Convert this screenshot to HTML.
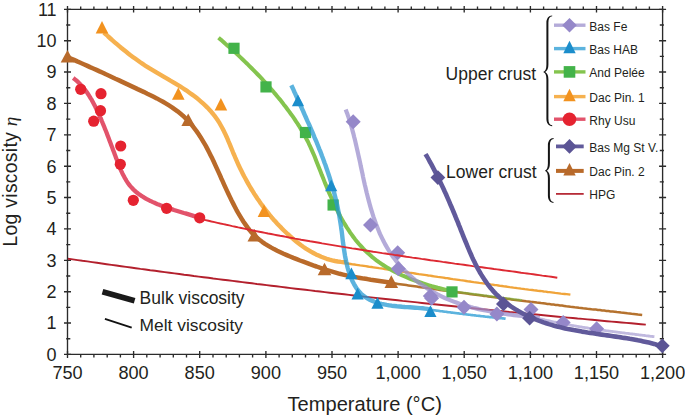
<!DOCTYPE html>
<html><head><meta charset="utf-8"><title>Log viscosity vs temperature</title>
<style>
html,body{margin:0;padding:0;background:#fff;}
body{width:685px;height:415px;overflow:hidden;}
svg{display:block;font-family:"Liberation Sans",sans-serif;}
</style></head><body>
<svg width="685" height="415" viewBox="0 0 685 415">
<rect width="685" height="415" fill="#fff"/>
<g stroke="#2b2b2b" stroke-width="1.35" fill="none">
<path d="M67.5,9.3 H662.6 V354.4 H67.5 Z"/>
<path d="M67.5,350.9 V357.9 M67.5,6.1 V12.5 M80.7,354.4 V357.4 M80.7,6.5 V9.3 M93.9,354.4 V357.4 M93.9,6.5 V9.3 M107.2,354.4 V357.4 M107.2,6.5 V9.3 M120.4,354.4 V357.4 M120.4,6.5 V9.3 M133.6,350.9 V357.9 M133.6,6.1 V12.5 M146.8,354.4 V357.4 M146.8,6.5 V9.3 M160.1,354.4 V357.4 M160.1,6.5 V9.3 M173.3,354.4 V357.4 M173.3,6.5 V9.3 M186.5,354.4 V357.4 M186.5,6.5 V9.3 M199.7,350.9 V357.9 M199.7,6.1 V12.5 M213,354.4 V357.4 M213,6.5 V9.3 M226.2,354.4 V357.4 M226.2,6.5 V9.3 M239.4,354.4 V357.4 M239.4,6.5 V9.3 M252.6,354.4 V357.4 M252.6,6.5 V9.3 M265.9,350.9 V357.9 M265.9,6.1 V12.5 M279.1,354.4 V357.4 M279.1,6.5 V9.3 M292.3,354.4 V357.4 M292.3,6.5 V9.3 M305.5,354.4 V357.4 M305.5,6.5 V9.3 M318.8,354.4 V357.4 M318.8,6.5 V9.3 M332,350.9 V357.9 M332,6.1 V12.5 M345.2,354.4 V357.4 M345.2,6.5 V9.3 M358.4,354.4 V357.4 M358.4,6.5 V9.3 M371.7,354.4 V357.4 M371.7,6.5 V9.3 M384.9,354.4 V357.4 M384.9,6.5 V9.3 M398.1,350.9 V357.9 M398.1,6.1 V12.5 M411.3,354.4 V357.4 M411.3,6.5 V9.3 M424.6,354.4 V357.4 M424.6,6.5 V9.3 M437.8,354.4 V357.4 M437.8,6.5 V9.3 M451,354.4 V357.4 M451,6.5 V9.3 M464.2,350.9 V357.9 M464.2,6.1 V12.5 M477.5,354.4 V357.4 M477.5,6.5 V9.3 M490.7,354.4 V357.4 M490.7,6.5 V9.3 M503.9,354.4 V357.4 M503.9,6.5 V9.3 M517.1,354.4 V357.4 M517.1,6.5 V9.3 M530.4,350.9 V357.9 M530.4,6.1 V12.5 M543.6,354.4 V357.4 M543.6,6.5 V9.3 M556.8,354.4 V357.4 M556.8,6.5 V9.3 M570,354.4 V357.4 M570,6.5 V9.3 M583.3,354.4 V357.4 M583.3,6.5 V9.3 M596.5,350.9 V357.9 M596.5,6.1 V12.5 M609.7,354.4 V357.4 M609.7,6.5 V9.3 M622.9,354.4 V357.4 M622.9,6.5 V9.3 M636.2,354.4 V357.4 M636.2,6.5 V9.3 M649.4,354.4 V357.4 M649.4,6.5 V9.3 M662.6,350.9 V357.9 M662.6,6.1 V12.5 M64,354.4 H71 M659.1,354.4 H666.1 M66.2,338.7 H70.3 M659.8,338.7 H663.9 M64,323 H71 M659.1,323 H666.1 M66.2,307.3 H70.3 M659.8,307.3 H663.9 M64,291.7 H71 M659.1,291.7 H666.1 M66.2,276 H70.3 M659.8,276 H663.9 M64,260.3 H71 M659.1,260.3 H666.1 M66.2,244.6 H70.3 M659.8,244.6 H663.9 M64,228.9 H71 M659.1,228.9 H666.1 M66.2,213.2 H70.3 M659.8,213.2 H663.9 M64,197.5 H71 M659.1,197.5 H666.1 M66.2,181.8 H70.3 M659.8,181.8 H663.9 M64,166.2 H71 M659.1,166.2 H666.1 M66.2,150.5 H70.3 M659.8,150.5 H663.9 M64,134.8 H71 M659.1,134.8 H666.1 M66.2,119.1 H70.3 M659.8,119.1 H663.9 M64,103.4 H71 M659.1,103.4 H666.1 M66.2,87.7 H70.3 M659.8,87.7 H663.9 M64,72 H71 M659.1,72 H666.1 M66.2,56.4 H70.3 M659.8,56.4 H663.9 M64,40.7 H71 M659.1,40.7 H666.1 M66.2,25 H70.3 M659.8,25 H663.9 M64,9.3 H71 M659.1,9.3 H666.1"/>
</g>
<path d="M67.9,258.7 L72.7,259.4 L77.6,260.1 L82.4,260.8 L87.3,261.4 L92.1,262.1 L96.9,262.8 L101.8,263.5 L106.6,264.2 L111.5,264.9 L116.3,265.5 L121.2,266.2 L126.0,266.9 L130.8,267.5 L135.7,268.2 L140.5,268.9 L145.4,269.5 L150.2,270.2 L155.1,270.8 L159.9,271.5 L164.7,272.1 L169.6,272.8 L174.4,273.4 L179.3,274.0 L184.1,274.7 L189.0,275.3 L193.8,276.0 L198.7,276.6 L203.5,277.2 L208.4,277.8 L213.2,278.5 L218.1,279.1 L222.9,279.7 L227.8,280.3 L232.6,280.9 L237.5,281.5 L242.3,282.1 L247.2,282.7 L252.0,283.3 L256.9,284.0 L261.7,284.5 L266.6,285.1 L271.4,285.7 L276.3,286.3 L281.1,286.9 L286.0,287.5 L290.8,288.1 L295.7,288.7 L300.6,289.2 L305.4,289.8 L310.3,290.4 L315.1,291.0 L320.0,291.5 L324.8,292.1 L329.7,292.7 L334.5,293.2 L339.4,293.8 L344.2,294.3 L349.1,294.9 L354.0,295.5 L358.8,296.0 L363.7,296.6 L368.5,297.1 L373.4,297.6 L378.3,298.2 L383.1,298.7 L388.0,299.3 L392.8,299.8 L397.7,300.3 L402.5,300.9 L407.4,301.4 L412.3,301.9 L417.1,302.4 L422.0,303.0 L426.8,303.5 L431.7,304.0 L436.6,304.5 L441.4,305.0 L446.3,305.5 L451.2,306.0 L456.0,306.5 L460.9,307.0 L465.7,307.5 L470.6,308.0 L475.5,308.5 L480.3,309.0 L485.2,309.5 L490.1,310.0 L494.9,310.5 L499.8,311.0 L504.7,311.5 L509.5,312.0 L514.4,312.4 L519.2,312.9 L524.1,313.4 L529.0,313.9 L533.8,314.3 L538.7,314.8 L543.6,315.3 L548.4,315.7 L553.3,316.2 L558.2,316.7 L563.0,317.1 L567.9,317.6 L572.8,318.0 L577.6,318.5 L582.5,318.9 L587.4,319.4 L592.2,319.8 L597.1,320.3 L602.0,320.7 L606.9,321.2 L611.7,321.6 L616.6,322.0 L621.5,322.5 L626.3,322.9 L631.2,323.3 L636.1,323.8 L640.9,324.2 L645.8,324.6" fill="none" stroke="#b3202d" stroke-width="1.9" stroke-linecap="butt" stroke-linejoin="round"/>
<path d="M345.0,263.1 L346.9,263.4 L348.8,263.7 L350.7,264.0 L352.6,264.3 L354.5,264.5 L356.4,264.8 L358.3,265.1 L360.1,265.4 L362.0,265.6 L363.9,265.9 L365.8,266.2 L367.7,266.5 L369.6,266.8 L371.5,267.0 L373.4,267.3 L375.3,267.6 L377.2,267.9 L379.1,268.2 L381.0,268.4 L382.9,268.7 L384.7,269.0 L386.6,269.3 L388.5,269.6 L390.4,269.8 L392.3,270.1 L394.2,270.4 L396.1,270.7 L398.0,271.0 L399.9,271.2 L401.8,271.5 L403.7,271.8 L405.6,272.1 L407.4,272.4 L409.3,272.7 L411.2,272.9 L413.1,273.2 L415.0,273.5 L416.9,273.8 L418.8,274.1 L420.7,274.3 L422.6,274.6 L424.5,274.9 L426.4,275.2 L428.3,275.5 L430.1,275.7 L432.0,276.0 L433.9,276.3 L435.8,276.6 L437.7,276.9 L439.6,277.1 L441.5,277.4 L443.4,277.7 L445.3,278.0 L447.2,278.2 L449.1,278.5 L451.0,278.8 L452.9,279.1 L454.7,279.3 L456.6,279.6 L458.5,279.9 L460.4,280.2 L462.3,280.4 L464.2,280.7 L466.1,281.0 L468.0,281.3 L469.9,281.5 L471.8,281.8 L473.7,282.1 L475.6,282.3 L477.5,282.6 L479.4,282.9 L481.3,283.1 L483.1,283.4 L485.0,283.7 L486.9,283.9 L488.8,284.2 L490.7,284.5 L492.6,284.7 L494.5,285.0 L496.4,285.2 L498.3,285.5 L500.2,285.8 L502.1,286.0 L504.0,286.3 L505.9,286.5 L507.8,286.8 L509.7,287.1 L511.6,287.3 L513.5,287.6 L515.4,287.8 L517.3,288.1 L519.2,288.3 L521.1,288.6 L522.9,288.8 L524.8,289.1 L526.7,289.3 L528.6,289.6 L530.5,289.8 L532.4,290.0 L534.3,290.3 L536.2,290.5 L538.1,290.8 L540.0,291.0 L541.9,291.2 L543.8,291.5 L545.7,291.7 L547.6,292.0 L549.5,292.2 L551.4,292.4 L553.3,292.6 L555.2,292.9 L557.1,293.1 L559.0,293.3 L560.9,293.6 L562.8,293.8 L564.7,294.0 L566.6,294.2 L568.5,294.4 L570.4,294.7" fill="none" stroke="#f0a43a" stroke-width="2.3" stroke-linecap="butt" stroke-linejoin="round"/>
<path d="M391.6,283.0 L393.7,283.3 L395.8,283.6 L397.9,283.9 L400.0,284.2 L402.1,284.5 L404.2,284.8 L406.3,285.1 L408.4,285.4 L410.5,285.7 L412.6,286.0 L414.7,286.3 L416.8,286.6 L418.9,286.9 L421.0,287.2 L423.1,287.5 L425.2,287.8 L427.3,288.1 L429.4,288.4 L431.5,288.7 L433.6,289.0 L435.7,289.3 L437.8,289.6 L439.9,289.9 L442.0,290.2 L444.1,290.5 L446.2,290.8 L448.4,291.1 L450.5,291.3 L452.6,291.6 L454.7,291.9 L456.8,292.2 L458.9,292.5 L461.0,292.8 L463.1,293.1 L465.2,293.3 L467.3,293.6 L469.4,293.9 L471.5,294.2 L473.6,294.5 L475.7,294.7 L477.8,295.0 L479.9,295.3 L482.0,295.6 L484.1,295.9 L486.2,296.1 L488.3,296.4 L490.4,296.7 L492.5,297.0 L494.6,297.2 L496.8,297.5 L498.9,297.8 L501.0,298.0 L503.1,298.3 L505.2,298.6 L507.3,298.9 L509.4,299.1 L511.5,299.4 L513.6,299.7 L515.7,299.9 L517.8,300.2 L519.9,300.5 L522.0,300.7 L524.1,301.0 L526.2,301.3 L528.3,301.5 L530.5,301.8 L532.6,302.0 L534.7,302.3 L536.8,302.6 L538.9,302.8 L541.0,303.1 L543.1,303.3 L545.2,303.6 L547.3,303.9 L549.4,304.1 L551.5,304.4 L553.6,304.6 L555.7,304.9 L557.8,305.1 L560.0,305.4 L562.1,305.6 L564.2,305.9 L566.3,306.2 L568.4,306.4 L570.5,306.7 L572.6,306.9 L574.7,307.2 L576.8,307.4 L578.9,307.7 L581.0,307.9 L583.1,308.2 L585.2,308.4 L587.4,308.7 L589.5,308.9 L591.6,309.2 L593.7,309.4 L595.8,309.6 L597.9,309.9 L600.0,310.1 L602.1,310.4 L604.2,310.6 L606.3,310.9 L608.4,311.1 L610.6,311.4 L612.7,311.6 L614.8,311.8 L616.9,312.1 L619.0,312.3 L621.1,312.6 L623.2,312.8 L625.3,313.0 L627.4,313.3 L629.5,313.5 L631.6,313.8 L633.8,314.0 L635.9,314.2 L638.0,314.5 L640.1,314.7 L642.2,314.9" fill="none" stroke="#b5722e" stroke-width="2.5" stroke-linecap="butt" stroke-linejoin="round"/>
<path d="M452.0,291.3 L452.6,291.4 L453.2,291.4 L453.8,291.5 L454.4,291.6 L454.9,291.7 L455.5,291.7 L456.1,291.8 L456.7,291.9 L457.3,292.0 L457.9,292.0 L458.5,292.1 L459.1,292.2 L459.6,292.3 L460.2,292.3 L460.8,292.4 L461.4,292.5 L462.0,292.6 L462.6,292.6 L463.2,292.7 L463.8,292.8 L464.4,292.9 L464.9,292.9 L465.5,293.0 L466.1,293.1 L466.7,293.2 L467.3,293.2 L467.9,293.3 L468.5,293.4 L469.1,293.5 L469.6,293.6 L470.2,293.6 L470.8,293.7 L471.4,293.8 L472.0,293.9 L472.6,293.9 L473.2,294.0 L473.8,294.1 L474.3,294.2 L474.9,294.3 L475.5,294.3 L476.1,294.4 L476.7,294.5 L477.3,294.6 L477.9,294.6 L478.5,294.7 L479.1,294.8 L479.6,294.9 L480.2,295.0 L480.8,295.0 L481.4,295.1 L482.0,295.2 L482.6,295.3 L483.2,295.3 L483.8,295.4 L484.3,295.5 L484.9,295.6 L485.5,295.7 L486.1,295.7 L486.7,295.8 L487.3,295.9 L487.9,296.0 L488.5,296.0 L489.0,296.1 L489.6,296.2 L490.2,296.3 L490.8,296.4 L491.4,296.4 L492.0,296.5 L492.6,296.6 L493.2,296.7 L493.7,296.7 L494.3,296.8 L494.9,296.9 L495.5,297.0 L496.1,297.0 L496.7,297.1 L497.3,297.2 L497.9,297.3 L498.5,297.3 L499.0,297.4 L499.6,297.5 L500.2,297.6 L500.8,297.6 L501.4,297.7 L502.0,297.8 L502.6,297.9 L503.2,297.9 L503.7,298.0 L504.3,298.1 L504.9,298.2 L505.5,298.2 L506.1,298.3 L506.7,298.4 L507.3,298.5 L507.9,298.5 L508.5,298.6 L509.0,298.7 L509.6,298.8 L510.2,298.8 L510.8,298.9 L511.4,299.0 L512.0,299.0 L512.6,299.1 L513.2,299.2 L513.8,299.2 L514.3,299.3 L514.9,299.4 L515.5,299.5 L516.1,299.5 L516.7,299.6 L517.3,299.7 L517.9,299.7 L518.5,299.8 L519.1,299.9 L519.6,299.9 L520.2,300.0 L520.8,300.1 L521.4,300.1 L522.0,300.2" fill="none" stroke="#72b83a" stroke-width="2.4" stroke-linecap="butt" stroke-linejoin="round" stroke-opacity="0.55"/>
<path d="M430.0,309.7 L430.6,309.8 L431.3,309.9 L431.9,310.0 L432.5,310.0 L433.2,310.1 L433.8,310.2 L434.4,310.3 L435.1,310.4 L435.7,310.5 L436.3,310.6 L437.0,310.6 L437.6,310.7 L438.2,310.8 L438.9,310.9 L439.5,311.0 L440.1,311.1 L440.8,311.2 L441.4,311.2 L442.0,311.3 L442.7,311.4 L443.3,311.5 L444.0,311.6 L444.6,311.7 L445.2,311.7 L445.9,311.8 L446.5,311.9 L447.1,312.0 L447.8,312.1 L448.4,312.2 L449.0,312.2 L449.7,312.3 L450.3,312.4 L450.9,312.5 L451.6,312.6 L452.2,312.6 L452.8,312.7 L453.5,312.8 L454.1,312.9 L454.7,313.0 L455.4,313.0 L456.0,313.1 L456.6,313.2 L457.3,313.3 L457.9,313.4 L458.5,313.4 L459.2,313.5 L459.8,313.6 L460.5,313.7 L461.1,313.8 L461.7,313.8 L462.4,313.9 L463.0,314.0 L463.6,314.1 L464.3,314.1 L464.9,314.2 L465.5,314.3 L466.2,314.4 L466.8,314.5 L467.4,314.5 L468.1,314.6 L468.7,314.7 L469.3,314.8 L470.0,314.8 L470.6,314.9 L471.3,315.0 L471.9,315.1 L472.5,315.1 L473.2,315.2 L473.8,315.3 L474.4,315.4 L475.1,315.4 L475.7,315.5 L476.3,315.6 L477.0,315.7 L477.6,315.7 L478.2,315.8 L478.9,315.9 L479.5,315.9 L480.1,316.0 L480.8,316.1 L481.4,316.2 L482.1,316.2 L482.7,316.3 L483.3,316.4 L484.0,316.4 L484.6,316.5 L485.2,316.6 L485.9,316.7 L486.5,316.7 L487.1,316.8 L487.8,316.9 L488.4,316.9 L489.1,317.0 L489.7,317.1 L490.3,317.1 L491.0,317.2 L491.6,317.3 L492.2,317.3 L492.9,317.4 L493.5,317.5 L494.1,317.5 L494.8,317.6 L495.4,317.7 L496.1,317.7 L496.7,317.8 L497.3,317.9 L498.0,317.9 L498.6,318.0 L499.2,318.1 L499.9,318.1 L500.5,318.2 L501.1,318.3 L501.8,318.3 L502.4,318.4 L503.1,318.4 L503.7,318.5 L504.3,318.6 L505.0,318.6 L505.6,318.7" fill="none" stroke="#2699d3" stroke-width="2.6" stroke-linecap="butt" stroke-linejoin="round" stroke-opacity="0.75"/>
<path d="M540.0,318.7 L540.9,319.0 L541.9,319.2 L542.8,319.4 L543.8,319.6 L544.7,319.9 L545.7,320.1 L546.6,320.3 L547.6,320.5 L548.5,320.7 L549.5,320.9 L550.4,321.2 L551.4,321.4 L552.3,321.6 L553.3,321.8 L554.2,322.0 L555.2,322.2 L556.1,322.4 L557.1,322.6 L558.1,322.8 L559.0,322.9 L560.0,323.1 L560.9,323.3 L561.9,323.5 L562.8,323.7 L563.8,323.9 L564.7,324.1 L565.7,324.3 L566.7,324.4 L567.6,324.6 L568.6,324.8 L569.5,325.0 L570.5,325.1 L571.4,325.3 L572.4,325.5 L573.4,325.6 L574.3,325.8 L575.3,326.0 L576.2,326.1 L577.2,326.3 L578.2,326.5 L579.1,326.6 L580.1,326.8 L581.0,326.9 L582.0,327.1 L583.0,327.3 L583.9,327.4 L584.9,327.6 L585.8,327.7 L586.8,327.9 L587.8,328.0 L588.7,328.2 L589.7,328.3 L590.7,328.5 L591.6,328.6 L592.6,328.7 L593.5,328.9 L594.5,329.0 L595.5,329.2 L596.4,329.3 L597.4,329.4 L598.4,329.6 L599.3,329.7 L600.3,329.9 L601.3,330.0 L602.2,330.1 L603.2,330.3 L604.2,330.4 L605.1,330.5 L606.1,330.7 L607.1,330.8 L608.0,330.9 L609.0,331.1 L609.9,331.2 L610.9,331.3 L611.9,331.4 L612.8,331.6 L613.8,331.7 L614.8,331.8 L615.7,331.9 L616.7,332.1 L617.7,332.2 L618.6,332.3 L619.6,332.4 L620.6,332.6 L621.5,332.7 L622.5,332.8 L623.5,332.9 L624.4,333.0 L625.4,333.2 L626.4,333.3 L627.3,333.4 L628.3,333.5 L629.3,333.6 L630.2,333.8 L631.2,333.9 L632.2,334.0 L633.1,334.1 L634.1,334.2 L635.1,334.4 L636.0,334.5 L637.0,334.6 L638.0,334.7 L638.9,334.8 L639.9,335.0 L640.9,335.1 L641.8,335.2 L642.8,335.3 L643.8,335.4 L644.7,335.5 L645.7,335.7 L646.7,335.8 L647.6,335.9 L648.6,336.0 L649.6,336.1 L650.5,336.3 L651.5,336.4 L652.5,336.5 L653.4,336.6 L654.4,336.7" fill="none" stroke="#a59bd2" stroke-width="2.8" stroke-linecap="butt" stroke-linejoin="round" stroke-opacity="0.7"/>
<path d="M73.2,78.0 L74.6,79.1 L75.9,80.1 L77.1,81.2 L78.4,82.4 L79.6,83.6 L80.7,84.8 L81.9,86.0 L83.0,87.3 L84.0,88.6 L85.1,89.9 L86.1,91.2 L87.1,92.6 L88.0,94.0 L88.9,95.4 L89.8,96.8 L90.7,98.3 L91.6,99.7 L92.4,101.2 L93.2,102.7 L94.0,104.2 L94.8,105.7 L95.5,107.2 L96.3,108.7 L97.0,110.3 L97.7,111.8 L98.4,113.3 L99.1,114.9 L99.8,116.4 L100.5,118.0 L101.2,119.5 L101.8,121.1 L102.5,122.7 L103.1,124.2 L103.8,125.8 L104.4,127.3 L105.0,128.9 L105.7,130.5 L106.3,132.0 L106.9,133.6 L107.5,135.2 L108.1,136.8 L108.7,138.3 L109.3,139.9 L109.9,141.5 L110.5,143.1 L111.1,144.7 L111.7,146.2 L112.3,147.8 L112.9,149.4 L113.5,151.0 L114.1,152.6 L114.7,154.2 L115.3,155.8 L115.9,157.4 L116.5,159.0 L117.1,160.6 L117.7,162.2 L118.3,163.8 L119.0,165.4 L119.6,167.0 L120.3,168.6 L120.9,170.1 L121.6,171.7 L122.3,173.2 L123.1,174.7 L123.9,176.2 L124.6,177.7 L125.5,179.1 L126.3,180.6 L127.2,181.9 L128.1,183.3 L129.1,184.6 L130.1,185.9 L131.2,187.1 L132.3,188.3 L133.4,189.5 L134.6,190.6 L135.8,191.7 L137.1,192.7 L138.4,193.7 L139.8,194.7 L141.1,195.6 L142.5,196.5 L143.9,197.4 L145.4,198.3 L146.8,199.1 L148.3,199.9 L149.8,200.7 L151.4,201.4 L152.9,202.1 L154.5,202.8 L156.0,203.5 L157.6,204.2 L159.2,204.8 L160.8,205.4 L162.5,206.1 L164.1,206.7 L165.7,207.2 L167.4,207.8 L169.0,208.4 L170.7,208.9 L172.3,209.4 L174.0,210.0 L175.6,210.5 L177.3,211.0 L178.9,211.5 L180.6,212.0 L182.2,212.5 L183.9,213.0 L185.5,213.4 L187.1,213.9 L188.7,214.4 L190.3,214.9 L191.9,215.4 L193.4,215.9 L195.0,216.4 L196.5,216.9 L198.1,217.4 L199.6,217.9" fill="none" stroke="#e2536b" stroke-width="4.3" stroke-linecap="butt" stroke-linejoin="round"/>
<circle cx="80.7" cy="89.3" r="5.6" fill="#e52330"/>
<circle cx="101" cy="93.7" r="5.6" fill="#e52330"/>
<circle cx="100.5" cy="110.7" r="5.6" fill="#e52330"/>
<circle cx="93.7" cy="121.2" r="5.6" fill="#e52330"/>
<circle cx="120.7" cy="146" r="5.6" fill="#e52330"/>
<circle cx="120.3" cy="164.3" r="5.6" fill="#e52330"/>
<circle cx="133.3" cy="200.3" r="5.6" fill="#e52330"/>
<circle cx="166.6" cy="208.3" r="5.6" fill="#e52330"/>
<circle cx="199.7" cy="217.8" r="5.6" fill="#e52330"/>
<path d="M103.9,32.5 L106.1,34.5 L108.2,36.5 L110.4,38.5 L112.5,40.4 L114.7,42.3 L116.9,44.2 L119.2,46.1 L121.4,48.0 L123.6,49.8 L125.9,51.6 L128.2,53.4 L130.5,55.2 L132.8,56.9 L135.1,58.6 L137.5,60.3 L139.9,62.0 L142.3,63.6 L144.7,65.3 L147.2,66.8 L149.7,68.4 L152.2,69.9 L154.7,71.4 L157.2,72.9 L159.8,74.4 L162.3,75.9 L164.9,77.4 L167.5,78.9 L170.0,80.4 L172.5,81.8 L175.1,83.4 L177.6,84.9 L180.1,86.4 L182.6,88.0 L185.0,89.6 L187.5,91.2 L189.8,92.9 L192.2,94.6 L194.5,96.3 L196.8,98.1 L199.0,99.9 L201.2,101.8 L203.3,103.7 L205.4,105.6 L207.4,107.6 L209.4,109.7 L211.3,111.8 L213.1,114.0 L214.8,116.2 L216.5,118.5 L218.1,120.8 L219.6,123.2 L221.0,125.7 L222.4,128.2 L223.7,130.8 L225.0,133.4 L226.2,136.0 L227.4,138.7 L228.5,141.4 L229.7,144.1 L230.8,146.8 L231.9,149.5 L233.0,152.3 L234.2,155.0 L235.3,157.7 L236.5,160.4 L237.7,163.1 L238.9,165.8 L240.2,168.4 L241.5,171.0 L242.8,173.7 L244.1,176.3 L245.5,178.8 L246.9,181.4 L248.3,183.9 L249.8,186.5 L251.3,189.0 L252.8,191.4 L254.3,193.9 L255.9,196.3 L257.5,198.7 L259.2,201.1 L260.8,203.5 L262.6,205.9 L264.3,208.2 L266.1,210.5 L267.9,212.7 L269.7,215.0 L271.5,217.2 L273.4,219.4 L275.4,221.6 L277.3,223.7 L279.3,225.8 L281.4,227.9 L283.4,230.0 L285.5,232.0 L287.6,234.0 L289.8,236.0 L292.0,237.9 L294.2,239.8 L296.5,241.7 L298.8,243.5 L301.1,245.3 L303.5,247.0 L305.9,248.6 L308.4,250.1 L310.9,251.6 L313.4,253.0 L316.0,254.4 L318.6,255.6 L321.2,256.8 L323.9,257.8 L326.6,258.8 L329.4,259.7 L332.2,260.4 L335.0,261.0 L337.9,261.5 L340.8,261.9 L343.8,262.2 L346.8,262.3" fill="none" stroke="#f6b14f" stroke-width="4.4" stroke-linecap="butt" stroke-linejoin="round"/>
<path d="M102,21.1 L108.3,33.5 L95.7,33.5 Z" fill="#f2921f"/>
<path d="M178.3,87.4 L184.6,99.8 L172,99.8 Z" fill="#f2921f"/>
<path d="M220.9,98.1 L227.2,110.5 L214.6,110.5 Z" fill="#f2921f"/>
<path d="M264,204.5 L270.3,216.9 L257.7,216.9 Z" fill="#f2921f"/>
<path d="M67.5,57.1 L70.8,58.5 L74.0,59.9 L77.2,61.4 L80.4,62.8 L83.7,64.2 L86.9,65.6 L90.0,67.1 L93.2,68.5 L96.4,69.9 L99.6,71.4 L102.8,72.8 L105.9,74.3 L109.1,75.7 L112.2,77.2 L115.4,78.7 L118.6,80.1 L121.7,81.6 L124.9,83.1 L128.1,84.6 L131.3,86.1 L134.5,87.6 L137.6,89.1 L140.9,90.6 L144.1,92.1 L147.3,93.7 L150.5,95.2 L153.6,96.8 L156.8,98.4 L159.9,100.1 L163.0,101.8 L166.1,103.6 L169.0,105.4 L172.0,107.3 L174.8,109.3 L177.6,111.3 L180.3,113.5 L182.9,115.7 L185.4,118.1 L187.8,120.5 L190.1,123.0 L192.3,125.7 L194.4,128.4 L196.5,131.1 L198.5,134.0 L200.4,136.9 L202.2,139.9 L204.0,142.9 L205.8,145.9 L207.5,149.1 L209.1,152.2 L210.7,155.4 L212.3,158.6 L213.8,161.8 L215.3,165.1 L216.8,168.4 L218.3,171.6 L219.8,174.9 L221.2,178.2 L222.7,181.4 L224.1,184.6 L225.6,187.9 L227.1,191.1 L228.6,194.2 L230.1,197.4 L231.6,200.5 L233.2,203.6 L234.8,206.7 L236.4,209.8 L238.1,212.8 L239.9,215.8 L241.7,218.8 L243.5,221.7 L245.5,224.6 L247.5,227.4 L249.6,230.1 L251.8,232.7 L254.2,235.2 L256.7,237.6 L259.4,239.8 L262.1,241.8 L265.0,243.8 L267.9,245.6 L270.9,247.4 L274.0,249.1 L277.2,250.7 L280.4,252.2 L283.6,253.7 L286.8,255.1 L290.1,256.5 L293.4,257.9 L296.7,259.2 L300.0,260.5 L303.3,261.7 L306.6,262.9 L309.9,264.2 L313.2,265.4 L316.5,266.5 L319.8,267.7 L323.1,268.8 L326.4,269.9 L329.7,270.9 L333.0,271.9 L336.4,272.9 L339.7,273.8 L343.1,274.6 L346.5,275.4 L350.0,276.1 L353.4,276.8 L356.9,277.4 L360.3,278.0 L363.8,278.6 L367.3,279.1 L370.8,279.7 L374.3,280.2 L377.7,280.7 L381.2,281.2 L384.7,281.7 L388.2,282.2 L391.6,282.8" fill="none" stroke="#b96a2a" stroke-width="4.5" stroke-linecap="butt" stroke-linejoin="round"/>
<path d="M67.5,49.9 L74.3,62.5 L60.7,62.5 Z" fill="#b86a2b"/>
<path d="M188.2,113.5 L195,126.1 L181.4,126.1 Z" fill="#b86a2b"/>
<path d="M254.3,228.9 L261.1,241.5 L247.5,241.5 Z" fill="#b86a2b"/>
<path d="M324.5,262.7 L331.3,275.3 L317.7,275.3 Z" fill="#b86a2b"/>
<path d="M391.3,275.3 L398.1,287.9 L384.5,287.9 Z" fill="#b86a2b"/>
<path d="M218.5,37.8 L220.7,39.6 L222.9,41.5 L225.1,43.5 L227.3,45.4 L229.5,47.3 L231.7,49.3 L234.0,51.3 L236.2,53.3 L238.4,55.4 L240.5,57.4 L242.7,59.5 L244.9,61.6 L247.1,63.7 L249.2,65.8 L251.4,68.0 L253.5,70.1 L255.7,72.3 L257.8,74.5 L259.9,76.7 L262.0,78.9 L264.0,81.2 L266.1,83.4 L268.1,85.7 L270.2,88.0 L272.2,90.3 L274.1,92.6 L276.1,94.9 L278.0,97.3 L280.0,99.6 L281.9,102.0 L283.7,104.4 L285.6,106.8 L287.4,109.2 L289.2,111.6 L290.9,114.0 L292.7,116.4 L294.4,118.9 L296.0,121.4 L297.7,123.8 L299.3,126.3 L300.8,128.9 L302.3,131.4 L303.8,134.0 L305.2,136.6 L306.6,139.2 L308.0,141.8 L309.2,144.5 L310.5,147.2 L311.7,149.9 L312.9,152.6 L314.1,155.3 L315.2,158.1 L316.3,160.9 L317.4,163.7 L318.5,166.5 L319.6,169.3 L320.7,172.1 L321.8,174.9 L323.0,177.7 L324.1,180.6 L325.2,183.4 L326.4,186.2 L327.5,189.1 L328.7,191.9 L329.9,194.7 L331.2,197.5 L332.4,200.3 L333.7,203.1 L335.0,205.8 L336.4,208.6 L337.7,211.3 L339.1,214.0 L340.5,216.7 L342.0,219.4 L343.5,222.0 L345.1,224.6 L346.6,227.1 L348.3,229.7 L349.9,232.2 L351.7,234.6 L353.4,237.0 L355.2,239.4 L357.1,241.7 L359.0,244.0 L361.0,246.2 L363.0,248.4 L365.1,250.6 L367.2,252.6 L369.5,254.6 L371.7,256.6 L374.1,258.5 L376.4,260.3 L378.9,262.1 L381.4,263.8 L383.9,265.5 L386.5,267.1 L389.2,268.7 L391.9,270.2 L394.6,271.6 L397.3,273.0 L400.1,274.4 L402.9,275.7 L405.8,276.9 L408.6,278.1 L411.5,279.3 L414.4,280.4 L417.3,281.5 L420.2,282.5 L423.1,283.5 L426.1,284.4 L429.0,285.3 L431.9,286.2 L434.8,287.0 L437.7,287.8 L440.6,288.5 L443.4,289.2 L446.3,289.9 L449.1,290.6 L451.9,291.2" fill="none" stroke="#84c44e" stroke-width="4.0" stroke-linecap="butt" stroke-linejoin="round"/>
<rect x="228.4" y="42.7" width="11.2" height="11.2" fill="#43b34a"/>
<rect x="260.4" y="81.3" width="11.2" height="11.2" fill="#43b34a"/>
<rect x="299.9" y="126.9" width="11.2" height="11.2" fill="#43b34a"/>
<rect x="327.5" y="199.4" width="11.2" height="11.2" fill="#43b34a"/>
<rect x="446.4" y="286.3" width="11.2" height="11.2" fill="#43b34a"/>
<path d="M291.3,85.2 L292.4,87.5 L293.4,89.7 L294.4,92.0 L295.5,94.3 L296.5,96.6 L297.5,98.8 L298.6,101.1 L299.6,103.4 L300.6,105.7 L301.6,107.9 L302.7,110.2 L303.7,112.5 L304.7,114.8 L305.7,117.0 L306.7,119.3 L307.7,121.6 L308.8,123.9 L309.8,126.2 L310.7,128.4 L311.7,130.7 L312.7,133.0 L313.7,135.3 L314.6,137.6 L315.6,139.9 L316.6,142.2 L317.5,144.5 L318.4,146.8 L319.3,149.1 L320.3,151.4 L321.2,153.7 L322.0,156.0 L322.9,158.3 L323.8,160.7 L324.6,163.0 L325.5,165.3 L326.3,167.7 L327.1,170.0 L327.9,172.4 L328.7,174.7 L329.5,177.1 L330.2,179.4 L330.9,181.8 L331.7,184.2 L332.4,186.6 L333.0,188.9 L333.7,191.3 L334.4,193.7 L335.0,196.1 L335.6,198.6 L336.2,201.0 L336.8,203.4 L337.3,205.8 L337.8,208.3 L338.3,210.7 L338.8,213.2 L339.3,215.6 L339.7,218.1 L340.1,220.6 L340.5,223.1 L340.9,225.6 L341.2,228.1 L341.6,230.6 L341.9,233.1 L342.2,235.6 L342.5,238.2 L342.8,240.7 L343.1,243.2 L343.5,245.7 L343.8,248.2 L344.2,250.7 L344.6,253.2 L345.0,255.7 L345.5,258.2 L346.0,260.7 L346.5,263.1 L347.1,265.6 L347.7,268.0 L348.4,270.4 L349.2,272.8 L350.0,275.2 L350.9,277.5 L351.8,279.8 L352.9,282.0 L354.0,284.1 L355.2,286.2 L356.4,288.2 L357.8,290.0 L359.3,291.8 L360.9,293.5 L362.5,295.0 L364.3,296.4 L366.2,297.7 L368.2,298.9 L370.2,300.0 L372.4,300.9 L374.6,301.8 L376.9,302.6 L379.2,303.3 L381.6,303.9 L384.1,304.4 L386.6,304.9 L389.1,305.3 L391.7,305.7 L394.3,306.0 L396.9,306.3 L399.5,306.5 L402.1,306.8 L404.8,307.0 L407.4,307.1 L410.0,307.3 L412.6,307.5 L415.1,307.7 L417.7,307.9 L420.2,308.1 L422.6,308.3 L425.0,308.6 L427.4,308.9 L429.6,309.3 L431.9,309.7" fill="none" stroke="#2699d3" stroke-width="4.4" stroke-linecap="butt" stroke-linejoin="round" stroke-opacity="0.75"/>
<path d="M298,94.4 L304.1,106.2 L291.9,106.2 Z" fill="#1b8dcb"/>
<path d="M331.2,179.5 L337.3,191.3 L325.1,191.3 Z" fill="#1b8dcb"/>
<path d="M351.4,267.5 L357.5,279.3 L345.3,279.3 Z" fill="#1b8dcb"/>
<path d="M357.6,287.7 L363.7,299.5 L351.5,299.5 Z" fill="#1b8dcb"/>
<path d="M377.5,297 L383.6,308.8 L371.4,308.8 Z" fill="#1b8dcb"/>
<path d="M430.4,305.2 L436.5,317 L424.3,317 Z" fill="#1b8dcb"/>
<path d="M345.7,109.6 L346.6,111.9 L347.5,114.3 L348.3,116.7 L349.1,119.1 L349.9,121.5 L350.7,124.0 L351.4,126.5 L352.1,129.0 L352.8,131.6 L353.5,134.1 L354.1,136.7 L354.8,139.3 L355.4,141.9 L356.0,144.5 L356.6,147.1 L357.2,149.8 L357.8,152.4 L358.4,155.1 L359.0,157.8 L359.6,160.4 L360.2,163.1 L360.7,165.8 L361.3,168.5 L361.9,171.2 L362.5,173.9 L363.0,176.6 L363.6,179.4 L364.2,182.1 L364.8,184.8 L365.5,187.5 L366.1,190.2 L366.7,192.8 L367.4,195.5 L368.1,198.2 L368.8,200.9 L369.5,203.5 L370.2,206.2 L371.0,208.8 L371.8,211.4 L372.6,214.0 L373.4,216.6 L374.3,219.2 L375.2,221.7 L376.1,224.2 L377.1,226.7 L378.1,229.2 L379.1,231.7 L380.1,234.1 L381.3,236.6 L382.4,238.9 L383.6,241.3 L384.8,243.6 L386.1,245.9 L387.4,248.2 L388.8,250.5 L390.2,252.7 L391.6,254.9 L393.1,257.0 L394.7,259.1 L396.3,261.2 L398.0,263.2 L399.7,265.2 L401.4,267.1 L403.3,269.1 L405.1,270.9 L407.0,272.8 L408.9,274.6 L410.9,276.4 L412.9,278.1 L415.0,279.8 L417.1,281.4 L419.2,283.0 L421.4,284.6 L423.6,286.1 L425.9,287.6 L428.1,289.0 L430.4,290.4 L432.8,291.8 L435.1,293.1 L437.5,294.4 L439.9,295.6 L442.4,296.8 L444.9,298.0 L447.4,299.1 L449.9,300.1 L452.4,301.1 L455.0,302.1 L457.6,303.0 L460.1,303.9 L462.8,304.8 L465.4,305.6 L468.0,306.3 L470.7,307.1 L473.3,307.8 L476.0,308.4 L478.7,309.1 L481.4,309.7 L484.1,310.3 L486.8,310.8 L489.5,311.3 L492.2,311.8 L494.9,312.3 L497.6,312.7 L500.3,313.2 L503.0,313.6 L505.7,314.0 L508.4,314.4 L511.1,314.7 L513.8,315.1 L516.4,315.4 L519.1,315.7 L521.7,316.0 L524.4,316.3 L527.0,316.6 L529.6,316.9 L532.2,317.2 L534.7,317.4 L537.3,317.7 L539.8,318.0" fill="none" stroke="#9b8fcc" stroke-width="4.2" stroke-linecap="butt" stroke-linejoin="round" stroke-opacity="0.75"/>
<path d="M353.2,114.3 L360.7,121.8 L353.2,129.3 L345.7,121.8 Z" fill="#9588c9"/>
<path d="M370.5,217.4 L378,224.9 L370.5,232.4 L363,224.9 Z" fill="#9588c9"/>
<path d="M397.7,245.2 L405.2,252.7 L397.7,260.2 L390.2,252.7 Z" fill="#9588c9"/>
<path d="M398.3,261.3 L405.8,268.8 L398.3,276.3 L390.8,268.8 Z" fill="#9588c9"/>
<path d="M430.3,288.5 L437.8,296 L430.3,303.5 L422.8,296 Z" fill="#9588c9"/>
<path d="M431.6,290.7 L439.1,298.2 L431.6,305.7 L424.1,298.2 Z" fill="#9588c9"/>
<path d="M464,299.8 L471.5,307.3 L464,314.8 L456.5,307.3 Z" fill="#9588c9"/>
<path d="M496.9,306.5 L504.4,314 L496.9,321.5 L489.4,314 Z" fill="#9588c9"/>
<path d="M531,302 L538.5,309.5 L531,317 L523.5,309.5 Z" fill="#9588c9"/>
<path d="M563.2,315 L570.7,322.5 L563.2,330 L555.7,322.5 Z" fill="#9588c9"/>
<path d="M596.6,321.3 L604.1,328.8 L596.6,336.3 L589.1,328.8 Z" fill="#9588c9"/>
<path d="M199.6,218.7 L202.6,219.4 L205.5,220.1 L208.5,220.8 L211.5,221.5 L214.5,222.1 L217.4,222.8 L220.4,223.5 L223.4,224.1 L226.4,224.8 L229.3,225.4 L232.3,226.1 L235.3,226.7 L238.3,227.4 L241.2,228.0 L244.2,228.6 L247.2,229.2 L250.2,229.9 L253.2,230.5 L256.2,231.1 L259.2,231.7 L262.1,232.3 L265.1,232.9 L268.1,233.5 L271.1,234.0 L274.1,234.6 L277.1,235.2 L280.1,235.8 L283.1,236.3 L286.1,236.9 L289.1,237.5 L292.1,238.0 L295.1,238.6 L298.1,239.1 L301.1,239.7 L304.1,240.2 L307.1,240.7 L310.1,241.3 L313.1,241.8 L316.1,242.3 L319.1,242.8 L322.1,243.4 L325.1,243.9 L328.1,244.4 L331.1,244.9 L334.1,245.4 L337.1,245.9 L340.1,246.4 L343.1,246.9 L346.1,247.4 L349.1,247.9 L352.1,248.4 L355.2,248.8 L358.2,249.3 L361.2,249.8 L364.2,250.3 L367.2,250.7 L370.2,251.2 L373.2,251.7 L376.2,252.1 L379.2,252.6 L382.3,253.1 L385.3,253.5 L388.3,254.0 L391.3,254.4 L394.3,254.9 L397.3,255.3 L400.4,255.8 L403.4,256.2 L406.4,256.7 L409.4,257.1 L412.4,257.6 L415.4,258.0 L418.5,258.4 L421.5,258.9 L424.5,259.3 L427.5,259.7 L430.5,260.2 L433.6,260.6 L436.6,261.0 L439.6,261.4 L442.6,261.9 L445.6,262.3 L448.7,262.7 L451.7,263.1 L454.7,263.6 L457.7,264.0 L460.7,264.4 L463.8,264.8 L466.8,265.2 L469.8,265.6 L472.8,266.1 L475.8,266.5 L478.9,266.9 L481.9,267.3 L484.9,267.7 L487.9,268.1 L490.9,268.5 L494.0,269.0 L497.0,269.4 L500.0,269.8 L503.0,270.2 L506.0,270.6 L509.1,271.0 L512.1,271.4 L515.1,271.8 L518.1,272.2 L521.1,272.7 L524.2,273.1 L527.2,273.5 L530.2,273.9 L533.2,274.3 L536.2,274.7 L539.2,275.1 L542.3,275.6 L545.3,276.0 L548.3,276.4 L551.3,276.8 L554.3,277.2 L557.3,277.7" fill="none" stroke="#dd2a33" stroke-width="1.9" stroke-linecap="butt" stroke-linejoin="round"/>
<path d="M425.5,154.1 L427.0,156.5 L428.4,159.0 L429.7,161.5 L431.1,163.9 L432.4,166.4 L433.7,168.9 L435.0,171.4 L436.3,173.9 L437.6,176.4 L438.8,178.9 L440.0,181.4 L441.2,183.9 L442.4,186.4 L443.6,189.0 L444.7,191.5 L445.9,194.0 L447.0,196.6 L448.1,199.1 L449.2,201.7 L450.3,204.3 L451.4,206.8 L452.5,209.4 L453.6,212.0 L454.7,214.6 L455.7,217.2 L456.8,219.8 L457.9,222.4 L458.9,225.1 L460.0,227.7 L461.0,230.4 L462.1,233.0 L463.1,235.7 L464.2,238.4 L465.3,241.0 L466.4,243.7 L467.5,246.3 L468.6,249.0 L469.7,251.6 L470.9,254.3 L472.0,256.9 L473.2,259.5 L474.5,262.0 L475.7,264.6 L477.0,267.1 L478.4,269.6 L479.7,272.0 L481.1,274.4 L482.6,276.8 L484.1,279.1 L485.7,281.4 L487.3,283.7 L488.9,285.9 L490.6,288.0 L492.4,290.1 L494.2,292.1 L496.1,294.1 L498.1,296.0 L500.1,297.9 L502.2,299.7 L504.3,301.5 L506.4,303.2 L508.7,304.8 L510.9,306.4 L513.2,307.9 L515.6,309.4 L517.9,310.8 L520.4,312.2 L522.8,313.5 L525.3,314.8 L527.8,316.0 L530.3,317.2 L532.9,318.3 L535.5,319.4 L538.1,320.4 L540.8,321.4 L543.4,322.4 L546.1,323.2 L548.8,324.1 L551.5,324.9 L554.2,325.7 L556.9,326.4 L559.6,327.1 L562.4,327.7 L565.1,328.4 L567.9,329.0 L570.7,329.5 L573.5,330.1 L576.3,330.6 L579.1,331.1 L581.9,331.6 L584.7,332.0 L587.5,332.5 L590.3,332.9 L593.2,333.3 L596.0,333.8 L598.8,334.2 L601.6,334.6 L604.5,335.0 L607.3,335.4 L610.1,335.8 L612.9,336.2 L615.7,336.6 L618.5,337.0 L621.3,337.4 L624.1,337.9 L626.9,338.3 L629.7,338.8 L632.5,339.2 L635.2,339.7 L638.0,340.3 L640.7,340.8 L643.4,341.4 L646.1,342.0 L648.8,342.6 L651.5,343.2 L654.2,343.9 L656.8,344.7 L659.4,345.4 L662.0,346.2" fill="none" stroke="#615a9b" stroke-width="4.6" stroke-linecap="butt" stroke-linejoin="round"/>
<path d="M437.9,170.2 L445.3,177.6 L437.9,185 L430.5,177.6 Z" fill="#5b5495"/>
<path d="M503.4,296.5 L510.8,303.9 L503.4,311.3 L496,303.9 Z" fill="#5b5495"/>
<path d="M529.6,310.8 L537,318.2 L529.6,325.6 L522.2,318.2 Z" fill="#5b5495"/>
<path d="M662.3,338.4 L669.7,345.8 L662.3,353.2 L654.9,345.8 Z" fill="#5b5495"/>
<path d="M554,25.2 H585.5" stroke="#b4abd9" stroke-width="3.4"/>
<path d="M569.5,17.9 L576.8,25.2 L569.5,32.5 L562.2,25.2 Z" fill="#9588c9"/>
<text x="589.3" y="30.6" font-size="12" fill="#231f20">Bas Fe</text>
<path d="M554,48.6 H585.5" stroke="#5cb3de" stroke-width="3.4"/>
<path d="M569.5,40.8 L575.7,53.2 L563.3,53.2 Z" fill="#1b8dcb"/>
<text x="589.3" y="54" font-size="12" fill="#231f20">Bas HAB</text>
<path d="M554,71.9 H585.5" stroke="#84c44e" stroke-width="3.4"/>
<rect x="563.7" y="66.1" width="11.6" height="11.6" fill="#43b34a"/>
<text x="589.3" y="77.3" font-size="12" fill="#231f20">And Pelée</text>
<path d="M554,96.6 H585.5" stroke="#f6b14f" stroke-width="3.4"/>
<path d="M569.5,88.8 L575.7,101.2 L563.3,101.2 Z" fill="#f2921f"/>
<text x="589.3" y="102" font-size="12" fill="#231f20">Dac Pin. 1</text>
<path d="M554,119.2 H585.5" stroke="#e2536b" stroke-width="3.4"/>
<circle cx="569.5" cy="119.2" r="6.8" fill="#e52330"/>
<text x="589.3" y="124.6" font-size="12" fill="#231f20">Rhy Usu</text>
<path d="M556,146.4 H583.7" stroke="#615a9b" stroke-width="3.8"/>
<path d="M569.5,139.1 L576.8,146.4 L569.5,153.7 L562.2,146.4 Z" fill="#5b5495"/>
<text x="589.3" y="151.8" font-size="12" fill="#231f20">Bas Mg St V.</text>
<path d="M556,170.9 H583.7" stroke="#b96a2a" stroke-width="4.0"/>
<path d="M569.5,163.1 L575.7,175.6 L563.3,175.6 Z" fill="#b86a2b"/>
<text x="589.3" y="176.3" font-size="12" fill="#231f20">Dac Pin. 2</text>
<path d="M556,193.9 H583.7" stroke="#b3202d" stroke-width="1.7"/>
<text x="589.3" y="199.3" font-size="12" fill="#231f20">HPG</text>
<path d="M552.2,15.4 C548.6,15.6 546.4,18.4 546.4,22.8 L546.4,64.6 C546.4,68.9 545.6,71.2 543.2,72.1 C545.6,73.0 546.4,75.3 546.4,79.6 L546.4,118.8 C546.4,123.2 548.6,126.0 552.2,126.2 L552.2,125.3 C549.6,125.0 548.4,122.8 548.4,118.8 L548.4,79.6 C548.4,75.7 547.4,73.3 545.2,72.1 C547.4,70.9 548.4,68.5 548.4,64.6 L548.4,22.8 C548.4,18.8 549.6,16.6 552.2,16.3 Z" fill="#151515"/>
<path d="M553.6,138.0 C550.0,138.2 547.9,141.0 547.9,145.4 L547.9,163.3 C547.9,167.6 547.1,169.9 544.9,170.8 C547.1,171.7 547.9,174.0 547.9,178.3 L547.9,195.4 C547.9,199.8 550.0,202.6 553.6,202.8 L553.6,201.9 C551.0,201.6 549.9,199.4 549.9,195.4 L549.9,178.3 C549.9,174.4 548.9,172.0 546.9,170.8 C548.9,169.6 549.9,167.2 549.9,163.3 L549.9,145.4 C549.9,141.4 551.0,139.2 553.6,138.9 Z" fill="#151515"/>
<text x="445.6" y="79.6" font-size="17.5" fill="#231f20">Upper crust</text>
<text x="446.1" y="177.7" font-size="17.5" fill="#231f20">Lower crust</text>
<path d="M102.5,291.7 L134.6,300.8" stroke="#1a1a1a" stroke-width="5.8"/>
<path d="M104.9,318.9 L131.7,327.6" stroke="#111" stroke-width="1.9"/>
<text x="139.6" y="303.7" font-size="17.5" fill="#231f20">Bulk viscosity</text>
<text x="139.6" y="330.5" font-size="17.4" fill="#231f20">Melt viscosity</text>
<text x="56.6" y="360.8" font-size="18" fill="#231f20" text-anchor="end">0</text>
<text x="56.6" y="329.4" font-size="18" fill="#231f20" text-anchor="end">1</text>
<text x="56.6" y="298.1" font-size="18" fill="#231f20" text-anchor="end">2</text>
<text x="56.6" y="266.7" font-size="18" fill="#231f20" text-anchor="end">3</text>
<text x="56.6" y="235.3" font-size="18" fill="#231f20" text-anchor="end">4</text>
<text x="56.6" y="203.9" font-size="18" fill="#231f20" text-anchor="end">5</text>
<text x="56.6" y="172.6" font-size="18" fill="#231f20" text-anchor="end">6</text>
<text x="56.6" y="141.2" font-size="18" fill="#231f20" text-anchor="end">7</text>
<text x="56.6" y="109.8" font-size="18" fill="#231f20" text-anchor="end">8</text>
<text x="56.6" y="78.4" font-size="18" fill="#231f20" text-anchor="end">9</text>
<text x="56.6" y="47.1" font-size="18" fill="#231f20" text-anchor="end">10</text>
<text x="56.6" y="15.7" font-size="18" fill="#231f20" text-anchor="end">11</text>
<text x="67.5" y="379" font-size="18.1" fill="#231f20" text-anchor="middle">750</text>
<text x="133.6" y="379" font-size="18.1" fill="#231f20" text-anchor="middle">800</text>
<text x="199.7" y="379" font-size="18.1" fill="#231f20" text-anchor="middle">850</text>
<text x="265.9" y="379" font-size="18.1" fill="#231f20" text-anchor="middle">900</text>
<text x="332" y="379" font-size="18.1" fill="#231f20" text-anchor="middle">950</text>
<text x="398.1" y="379" font-size="18.1" fill="#231f20" text-anchor="middle">1,000</text>
<text x="464.2" y="379" font-size="18.1" fill="#231f20" text-anchor="middle">1,050</text>
<text x="530.4" y="379" font-size="18.1" fill="#231f20" text-anchor="middle">1,100</text>
<text x="596.5" y="379" font-size="18.1" fill="#231f20" text-anchor="middle">1,150</text>
<text x="662.6" y="379" font-size="18.1" fill="#231f20" text-anchor="middle">1,200</text>
<text x="364.7" y="411" font-size="20.1" fill="#231f20" text-anchor="middle">Temperature (°C)</text>
<text transform="translate(17.4,181.6) rotate(-90)" font-size="19.3" fill="#231f20" text-anchor="middle" textLength="130" lengthAdjust="spacing">Log viscosity <tspan font-family="Liberation Serif" font-style="italic">η</tspan></text>
</svg>
</body></html>
